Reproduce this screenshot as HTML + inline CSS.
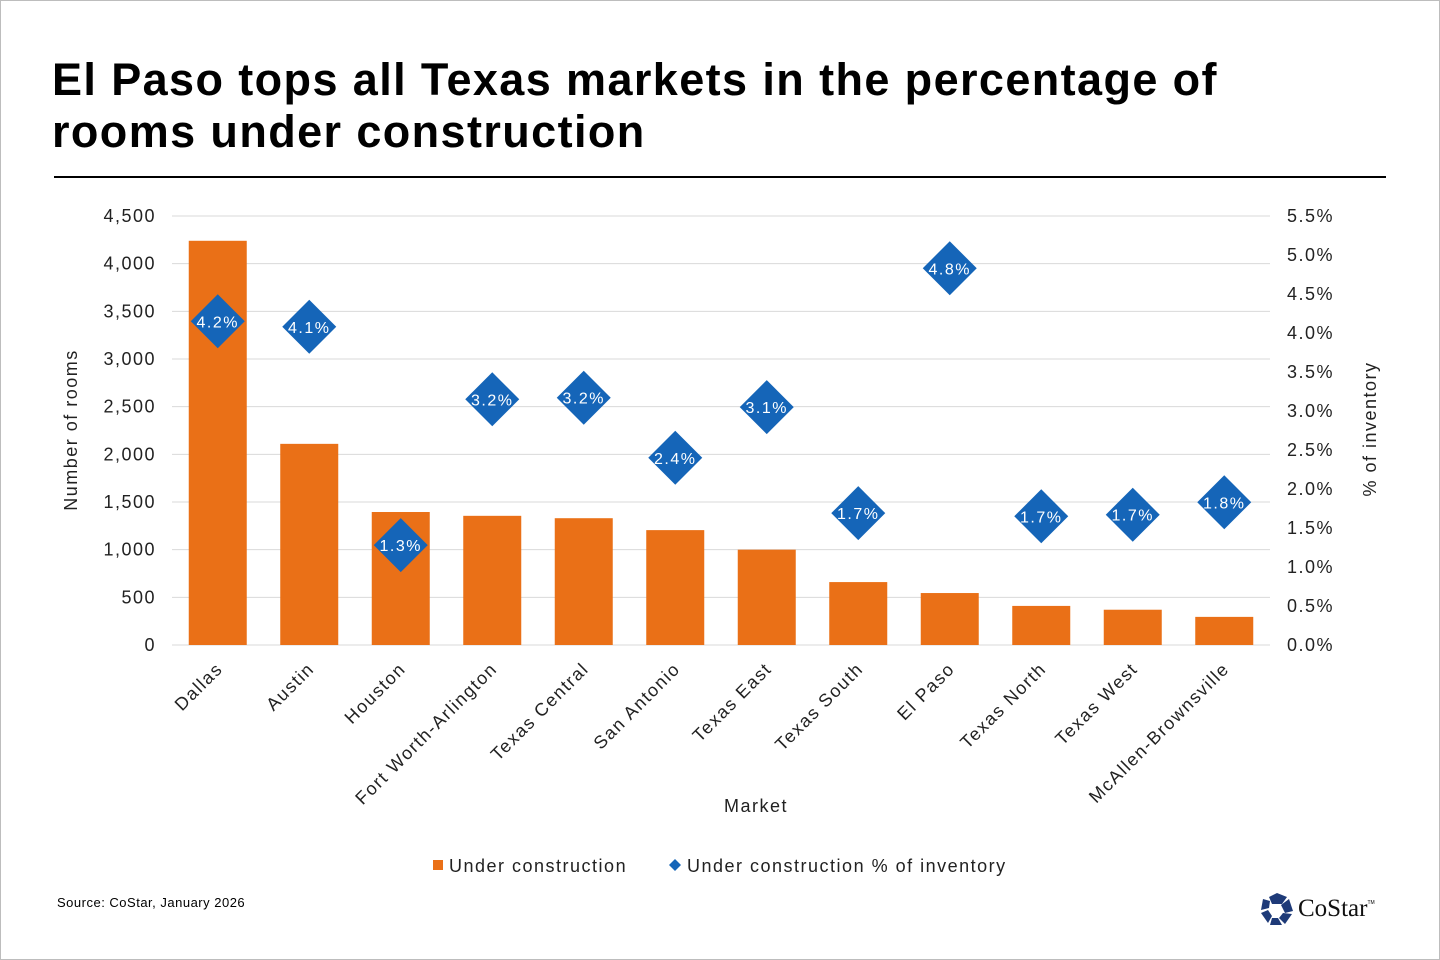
<!DOCTYPE html>
<html><head><meta charset="utf-8">
<style>
html,body{margin:0;padding:0;background:#fff;}
body{width:1440px;height:960px;position:relative;overflow:hidden;font-family:"Liberation Sans",Arial,sans-serif;}
#frame{position:absolute;left:0;top:0;width:1438px;height:958px;border:1px solid #bdbdbd;}
h1{position:absolute;left:52px;top:54px;margin:0;font-size:45px;line-height:52px;font-weight:bold;color:#000;width:1200px;letter-spacing:1.4px;}
#rule{position:absolute;left:54px;top:176px;width:1332px;height:2px;background:#000;}
#src{position:absolute;left:57px;top:895px;font-size:13px;color:#000;letter-spacing:0.5px;}
svg text{letter-spacing:1.5px;}
</style></head><body>
<div id="frame"></div>
<h1>El Paso tops all Texas markets in the percentage of rooms under construction</h1>
<div id="rule"></div>
<svg id="chart" width="1440" height="960" style="position:absolute;left:0;top:0"></svg>
<div id="src">Source: CoStar, January 2026</div>
<div style="position:absolute;left:1260px;top:892px;display:flex;align-items:center;">
<svg width="34" height="34" viewBox="0 0 34 34"><g fill="#1e3a78">
<polygon points="17,1 27,5 22,12 12,12 9,5"/><polygon points="29,7 33,19 25,21 21,13"/><polygon points="32,22 25,32 19,26 23,21"/><polygon points="22,33 10,33 12,26 18,26"/><polygon points="8,31 1,21 8,18 12,24"/><polygon points="1,18 3,7 10,9 9,16"/></g></svg>
<span style="font-family:'Liberation Serif',serif;font-size:25px;color:#111;margin-left:4px;">CoStar</span><span style="font-size:5px;margin-top:-12px;">TM</span>
</div>
<script>
const categories=["Dallas","Austin","Houston","Fort Worth-Arlington","Texas Central","San Antonio","Texas East","Texas South","El Paso","Texas North","Texas West","McAllen-Brownsville"];
const rooms=[4240,2110,1395,1355,1330,1205,1000,660,545,410,370,295];
const pct=[4.15,4.08,1.28,3.15,3.17,2.4,3.05,1.69,4.83,1.65,1.67,1.83];
const pctLabels=["4.2%","4.1%","1.3%","3.2%","3.2%","2.4%","3.1%","1.7%","4.8%","1.7%","1.7%","1.8%"];
const leftTicks=[0,500,1000,1500,2000,2500,3000,3500,4000,4500];
const rightTicks=[0,0.5,1,1.5,2,2.5,3,3.5,4,4.5,5,5.5];

const NS="http://www.w3.org/2000/svg";
const svg=document.getElementById('chart');
const X0=172,X1=1270,Y0=645,Y1=216;
const band=(X1-X0)/categories.length;
const yL=v=>Y0-(v/4500)*(Y0-Y1);
const yR=v=>Y0-(v/5.5)*(Y0-Y1);
const xC=i=>X0+band*(i+0.5);
function mk(t,a,txt){const e=document.createElementNS(NS,t);for(const k in a)e.setAttribute(k,a[k]);if(txt!=null)e.textContent=txt;svg.appendChild(e);return e;}
const fmt=v=>v.toLocaleString('en-US');
leftTicks.forEach(v=>{
  const g=mk('line',{x1:X0,x2:X1,y1:yL(v),y2:yL(v),stroke:'#d9d9d9','stroke-width':1});
  
  
  const t=mk('text',{x:156,y:yL(v)+6,'text-anchor':'end','font-size':18,fill:'#222'},fmt(v));
  
  
});
rightTicks.forEach(v=>{
  const t=mk('text',{x:1287,y:yR(v)+6,'font-size':18,fill:'#222'},v.toFixed(1)+'%');
  
  
});
categories.forEach((c,i)=>{
  const b=mk('rect',{x:xC(i)-29,y:yL(rooms[i]),width:58,height:Y0-yL(rooms[i]),fill:'#ea7017'});
  
  
  const t=mk('text',{transform:`translate(${xC(i)+6},${670}) rotate(-45)`,'text-anchor':'end','font-size':18,fill:'#222'},c);
  
  
});
categories.forEach((c,i)=>{
  const cx=xC(i),cy=yR(pct[i]),r=27;
  const d=mk('polygon',{points:`${cx},${cy-r} ${cx+r},${cy} ${cx},${cy+r} ${cx-r},${cy}`,fill:'#1565b8'});
  
  
  const t=mk('text',{x:cx,y:cy+6,'text-anchor':'middle','font-size':16,fill:'#fff'},pctLabels[i]);
  
  
});
let t;
t=mk('text',{transform:'translate(77,430) rotate(-90)','text-anchor':'middle','font-size':18,fill:'#222'},'Number of rooms');


t=mk('text',{transform:'translate(1376,429) rotate(-90)','text-anchor':'middle','font-size':18,fill:'#222'},'% of inventory');


t=mk('text',{x:756,y:812,'text-anchor':'middle','font-size':18,fill:'#222'},'Market');


let e=mk('rect',{x:433,y:860,width:10,height:10,fill:'#ea7017'});


t=mk('text',{x:449,y:872,'font-size':18,fill:'#222'},'Under construction');


e=mk('polygon',{points:'675,859 681,865 675,871 669,865',fill:'#1565b8'});


t=mk('text',{x:687,y:872,'font-size':18,fill:'#222'},'Under construction % of inventory');


</script>
</body></html>
